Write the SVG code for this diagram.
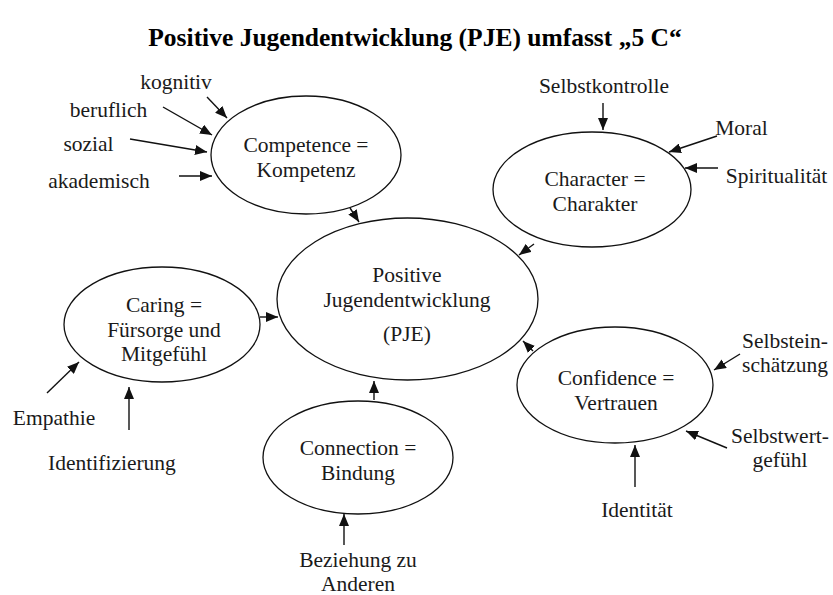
<svg xmlns="http://www.w3.org/2000/svg" width="833" height="595" viewBox="0 0 833 595">
<style>
text{font-family:"Liberation Serif","Times New Roman",serif;font-size:21.5px;fill:#1a1a1a;text-anchor:middle}
.title{font-weight:bold;font-size:25.5px;fill:#000}
ellipse{fill:none;stroke:#111;stroke-width:1.3}
.c line{stroke:#111;stroke-width:1.4;marker-end:url(#ah)}
</style>
<defs>
<marker id="ah" markerUnits="userSpaceOnUse" markerWidth="12" markerHeight="10" refX="12" refY="5" orient="auto" viewBox="0 0 12 10">
<path d="M0,0 L12,5 L0,10 z" fill="#111"/>
</marker>
</defs>
<rect width="833" height="595" fill="#fff"/>
<text class="title" x="415" y="46">Positive Jugendentwicklung (PJE) umfasst „5 C“</text>

<g id="pje">
<ellipse cx="407.5" cy="299" rx="130.5" ry="81"/>
<text x="407" y="282">Positive</text>
<text x="407" y="307">Jugendentwicklung</text>
<text x="407" y="341">(PJE)</text>
</g>
<g id="competence">
<ellipse cx="306" cy="155" rx="95" ry="59"/>
<text x="306" y="152">Competence =</text>
<text x="306" y="177">Kompetenz</text>
</g>
<g id="character">
<ellipse cx="592" cy="189.5" rx="99" ry="57.5"/>
<text x="595" y="186">Character =</text>
<text x="595" y="211">Charakter</text>
</g>
<g id="caring">
<ellipse cx="162" cy="324.5" rx="98" ry="57.5"/>
<text x="164" y="312">Caring =</text>
<text x="164" y="337">Fürsorge und</text>
<text x="164" y="361">Mitgefühl</text>
</g>
<g id="connection">
<ellipse cx="358" cy="457.5" rx="95" ry="56.5"/>
<text x="358" y="455">Connection =</text>
<text x="358" y="480">Bindung</text>
</g>
<g id="confidence">
<ellipse cx="615" cy="385" rx="98" ry="58"/>
<text x="616" y="385">Confidence =</text>
<text x="616" y="410">Vertrauen</text>
</g>

<g id="labels">
<text x="176" y="89">kognitiv</text>
<text x="108.5" y="117">beruflich</text>
<text x="88.5" y="151">sozial</text>
<text x="99" y="188">akademisch</text>
<text x="604" y="93">Selbstkontrolle</text>
<text x="741.5" y="135">Moral</text>
<text x="776.5" y="183">Spiritualität</text>
<text x="785" y="348">Selbstein-</text>
<text x="785" y="372">schätzung</text>
<text x="780" y="443">Selbstwert-</text>
<text x="780" y="467">gefühl</text>
<text x="637" y="517">Identität</text>
<text x="358" y="567">Beziehung zu</text>
<text x="358" y="591">Anderen</text>
<text x="54" y="425">Empathie</text>
<text x="112" y="470">Identifizierung</text>
</g>

<g id="connectors" class="c">
<line x1="207" y1="97" x2="227" y2="118"/>
<line x1="163" y1="107" x2="212" y2="135"/>
<line x1="130" y1="139" x2="207" y2="152"/>
<line x1="179" y1="176" x2="212" y2="176"/>
<line x1="350" y1="208" x2="359" y2="222"/>
<line x1="603" y1="103" x2="603" y2="130"/>
<line x1="717" y1="136" x2="669" y2="152"/>
<line x1="718" y1="168" x2="685" y2="168"/>
<line x1="534" y1="244" x2="519" y2="255"/>
<line x1="260" y1="317" x2="278" y2="317"/>
<line x1="47" y1="393" x2="79" y2="362"/>
<line x1="129" y1="430" x2="129" y2="387"/>
<line x1="374" y1="400" x2="374" y2="381"/>
<line x1="344" y1="545" x2="344" y2="514"/>
<line x1="533" y1="351" x2="523" y2="341"/>
<line x1="740" y1="354" x2="714" y2="370"/>
<line x1="727" y1="448" x2="686" y2="431"/>
<line x1="635" y1="487" x2="635" y2="445"/>
</g>
</svg>
